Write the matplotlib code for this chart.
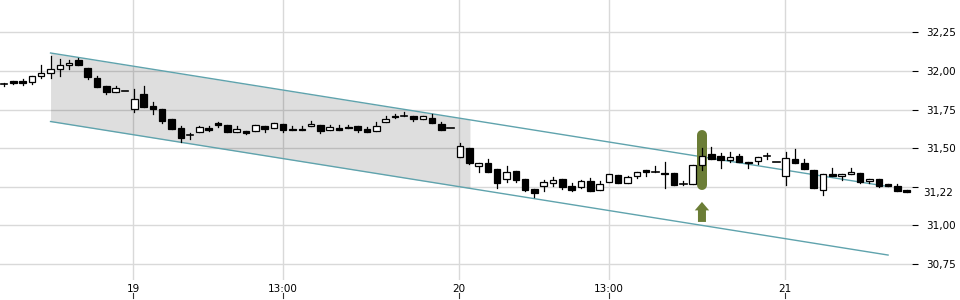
import numpy as np
import matplotlib
matplotlib.use('Agg')
import matplotlib.pyplot as plt
from matplotlib.patches import Rectangle, FancyArrow
from matplotlib import transforms

# candle data (one candle per slot)
opens = [31.915, 31.935, 31.935, 31.927, 31.966, 31.985, 32.011, 32.037, 32.070, 32.018,
         31.953, 31.900, 31.864, 31.868, 31.753, 31.849, 31.773, 31.751, 31.686, 31.628,
         31.583, 31.602, 31.632, 31.660, 31.647, 31.606, 31.610, 31.608, 31.643, 31.628,
         31.654, 31.625, 31.625, 31.643, 31.647, 31.615, 31.630, 31.636, 31.643, 31.623,
         31.608, 31.667, 31.710, 31.710, 31.708, 31.686, 31.695, 31.654, 31.628, 31.440,
         31.500, 31.385, 31.401, 31.362, 31.297, 31.349, 31.297, 31.232, 31.251, 31.275,
         31.297, 31.253, 31.249, 31.288, 31.225, 31.279, 31.323, 31.271, 31.316, 31.355,
         31.342, 31.340, 31.340, 31.264, 31.264, 31.390, 31.459, 31.448, 31.424, 31.446,
         31.411, 31.414, 31.446, 31.407, 31.318, 31.427, 31.401, 31.357, 31.227, 31.329,
         31.318, 31.329, 31.336, 31.288, 31.301, 31.264, 31.251, 31.225]
highs = [31.925, 31.937, 31.945, 31.970, 32.040, 32.097, 32.076, 32.070, 32.082, 32.020,
         31.966, 31.900, 31.900, 31.868, 31.883, 31.903, 31.797, 31.751, 31.686, 31.643,
         31.600, 31.645, 31.640, 31.672, 31.647, 31.641, 31.610, 31.647, 31.643, 31.664,
         31.654, 31.640, 31.640, 31.674, 31.647, 31.647, 31.651, 31.649, 31.643, 31.636,
         31.669, 31.708, 31.720, 31.732, 31.708, 31.708, 31.719, 31.669, 31.628, 31.530,
         31.500, 31.401, 31.429, 31.362, 31.383, 31.349, 31.297, 31.232, 31.292, 31.310,
         31.297, 31.271, 31.292, 31.307, 31.284, 31.329, 31.323, 31.318, 31.342, 31.355,
         31.381, 31.407, 31.340, 31.288, 31.388, 31.498, 31.504, 31.470, 31.472, 31.463,
         31.411, 31.444, 31.466, 31.407, 31.476, 31.494, 31.427, 31.357, 31.329, 31.368,
         31.329, 31.368, 31.336, 31.301, 31.301, 31.264, 31.268, 31.230]
lows = [31.905, 31.915, 31.910, 31.914, 31.953, 31.957, 31.970, 32.015, 32.037, 31.950,
        31.898, 31.849, 31.864, 31.868, 31.732, 31.764, 31.719, 31.664, 31.625, 31.541,
        31.560, 31.602, 31.608, 31.638, 31.604, 31.606, 31.589, 31.608, 31.606, 31.628,
        31.606, 31.615, 31.615, 31.643, 31.600, 31.615, 31.619, 31.628, 31.604, 31.602,
        31.608, 31.667, 31.693, 31.710, 31.673, 31.686, 31.664, 31.615, 31.628, 31.440,
        31.394, 31.346, 31.342, 31.242, 31.277, 31.281, 31.219, 31.180, 31.223, 31.256,
        31.234, 31.223, 31.242, 31.219, 31.225, 31.279, 31.271, 31.271, 31.307, 31.318,
        31.342, 31.238, 31.258, 31.258, 31.264, 31.355, 31.431, 31.372, 31.409, 31.407,
        31.368, 31.394, 31.431, 31.407, 31.260, 31.405, 31.362, 31.238, 31.193, 31.316,
        31.290, 31.329, 31.271, 31.271, 31.250, 31.253, 31.221, 31.213]
closes = [31.915, 31.925, 31.925, 31.966, 31.990, 32.011, 32.037, 32.050, 32.037, 31.963,
          31.898, 31.862, 31.888, 31.868, 31.816, 31.764, 31.751, 31.677, 31.625, 31.567,
          31.583, 31.634, 31.617, 31.647, 31.606, 31.621, 31.595, 31.647, 31.625, 31.664,
          31.617, 31.615, 31.615, 31.658, 31.612, 31.634, 31.619, 31.628, 31.619, 31.602,
          31.643, 31.686, 31.699, 31.710, 31.690, 31.708, 31.664, 31.615, 31.628, 31.511,
          31.401, 31.401, 31.342, 31.271, 31.346, 31.292, 31.229, 31.210, 31.281, 31.290,
          31.245, 31.229, 31.284, 31.219, 31.264, 31.329, 31.271, 31.310, 31.342, 31.342,
          31.342, 31.331, 31.258, 31.264, 31.388, 31.450, 31.431, 31.424, 31.444, 31.407,
          31.403, 31.444, 31.446, 31.407, 31.433, 31.405, 31.362, 31.238, 31.329, 31.316,
          31.329, 31.342, 31.277, 31.301, 31.253, 31.253, 31.221, 31.215]

# trend channel
channel_x = [5, 95]
channel_upper = [32.117, 31.250]
channel_lower = [31.672, 30.805]
shade_end = 50

signal_idx = 75
last_price = 31.22

xtick_pos = [13.86, 29.98, 48.9, 65.0, 83.9]
xtick_labels = ['19', '13:00', '20', '13:00', '21']
yticks = [30.75, 31.00, 31.25, 31.50, 31.75, 32.00, 32.25]

plt.rcParams['font.family'] = 'DejaVu Sans'

fig = plt.figure(figsize=(9.6, 3.0), dpi=100)
ax = fig.add_axes([0.0, 20 / 300, 912 / 960, 280 / 300])
ax.set_xlim(-0.43, 97.57)
ax.set_ylim(30.643, 32.461)

# grid
for yv in yticks:
    ax.axhline(yv, color='#d9d9d9', lw=1, zorder=0)
for xv in xtick_pos:
    ax.axvline(xv, color='#d9d9d9', lw=1, zorder=0)

# channel shading + lines
slope_u = (channel_upper[1] - channel_upper[0]) / (channel_x[1] - channel_x[0])
slope_l = (channel_lower[1] - channel_lower[0]) / (channel_x[1] - channel_x[0])
xs = np.array([channel_x[0], shade_end + 0.07])
ax.fill_between(xs, channel_lower[0] + slope_l * (xs - channel_x[0]),
                channel_upper[0] + slope_u * (xs - channel_x[0]),
                color='black', alpha=0.13, lw=0, zorder=1)
ax.plot(channel_x, channel_upper, color='#5fa3ad', lw=1, zorder=2)
ax.plot(channel_x, channel_lower, color='#5fa3ad', lw=1, zorder=2)

# signal marker
green = '#6b7d36'
ax.plot([signal_idx, signal_idx], [31.262, 31.582], color=green, lw=7.2,
        solid_capstyle='round', zorder=3)
ax.add_patch(FancyArrow(signal_idx, 31.02, 0, 0.13, width=0.86, head_width=1.55,
                        head_length=0.055, length_includes_head=True,
                        color=green, lw=0, zorder=3))

# candles
w = 0.7
for i in range(len(opens)):
    o, h, l, c = opens[i], highs[i], lows[i], closes[i]
    ax.plot([i, i], [l, h], color='black', lw=0.9, zorder=4)
    lo, hi = min(o, c), max(o, c)
    if hi - lo < 0.004:
        ax.plot([i - w / 2, i + w / 2], [o, o], color='black', lw=1.2, zorder=5)
    else:
        face = 'white' if c > o else 'black'
        ax.add_patch(Rectangle((i - w / 2, lo), w, hi - lo, facecolor=face,
                               edgecolor='black', lw=0.9, zorder=5))

for s in ax.spines.values():
    s.set_visible(False)

# right axis; the 31,25 label sits under the last-price box
ax.yaxis.tick_right()
ax.set_yticks(yticks)
ylabels = [('%.2f' % v).replace('.', ',') for v in yticks]
ylabels[yticks.index(31.25)] = ''
ax.set_yticklabels(ylabels)
ax.tick_params(axis='y', length=4, width=0.8, pad=6, labelsize=7.5, colors='black')

ax.set_xticks(xtick_pos)
ax.set_xticklabels(xtick_labels)
ax.tick_params(axis='x', length=0, pad=3, labelsize=7.5)

# x tick marks below the labels
trans = transforms.blended_transform_factory(ax.transData, ax.transAxes)
for xv in xtick_pos:
    ax.plot([xv, xv], [-0.048, -0.066], color='#333333', lw=0.8,
            transform=trans, clip_on=False)

# last price label
ax.annotate(('%.2f' % last_price).replace('.', ','),
            xy=(1.0, last_price - 0.015),
            xycoords=transforms.blended_transform_factory(ax.transAxes, ax.transData),
            xytext=(7.9, 0), textcoords='offset points',
            ha='left', va='center', fontsize=7.5, zorder=10, annotation_clip=False)

fig.savefig('out.png', dpi=100)
